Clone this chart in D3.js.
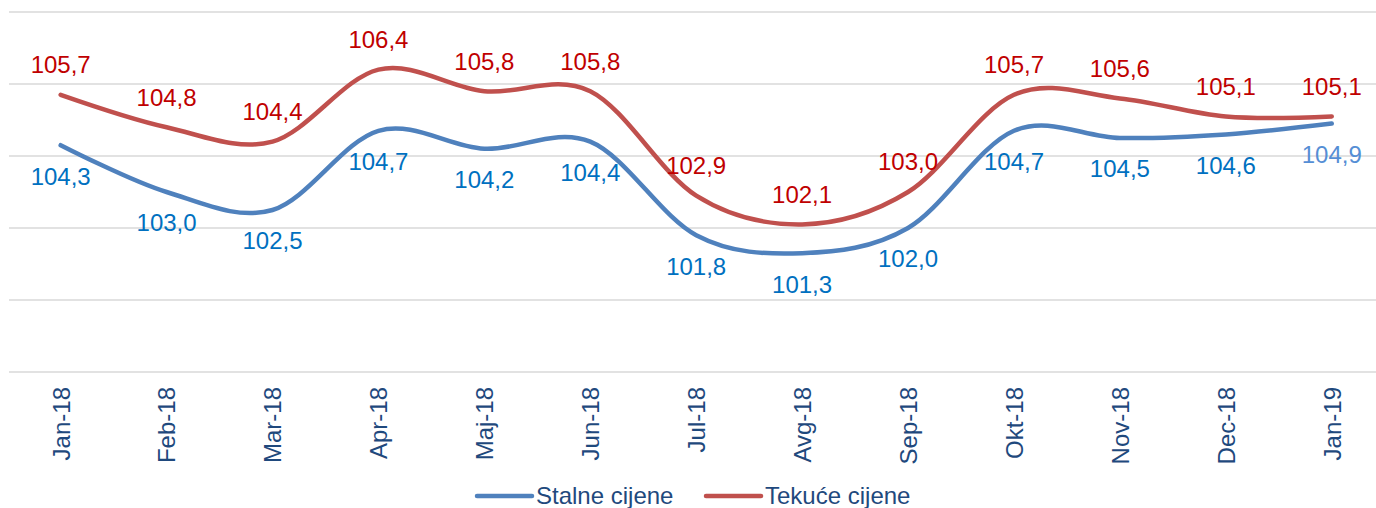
<!DOCTYPE html>
<html>
<head>
<meta charset="utf-8">
<script src="https://cdn.jsdelivr.net/npm/d3@7"></script>
<style>
  html, body { margin: 0; padding: 0; background: #fff; }
  svg { display: block; font-family: "Liberation Sans", Arial, sans-serif; }
</style>
</head>
<body>
<svg id="chart" width="1376" height="508"></svg>
<script>
const categories = ["Jan-18","Feb-18","Mar-18","Apr-18","Maj-18","Jun-18","Jul-18","Avg-18","Sep-18","Okt-18","Nov-18","Dec-18","Jan-19"];
const stalne = [104.3,103.0,102.5,104.7,104.2,104.4,101.8,101.3,102.0,104.7,104.5,104.6,104.9];
const tekuce = [105.7,104.8,104.4,106.4,105.8,105.8,102.9,102.1,103.0,105.7,105.6,105.1,105.1];
const yTicks = [98,100,102,104,106,108];
const seriesNames = ["Stalne cijene","Tekuće cijene"];

const svg = d3.select("#chart");
const x = d3.scalePoint().domain(categories).range([7.7, 1384.7]).padding(0.5);
const y = d3.scaleLinear().domain([98, 108]).range([372, 12]);

// gridlines
svg.append("g").selectAll("line").data(yTicks).join("line")
  .attr("x1", 9).attr("x2", 1376)
  .attr("y1", d => y(d)).attr("y2", d => y(d))
  .attr("stroke", "#D9D9D9").attr("stroke-width", 1.3);

// x axis labels
const xAxis = d3.axisBottom(x).tickSize(0).tickPadding(0);
const gx = svg.append("g").attr("transform", `translate(0,${y(98)})`).call(xAxis);
gx.select(".domain").remove();
gx.selectAll("text")
  .attr("transform", "translate(0,15) rotate(-90)")
  .attr("text-anchor", "end")
  .attr("x", 0).attr("y", 0).attr("dy", "0.35em")
  .attr("fill", "#1F497D")
  .style("font-size", "24px")
  .style("font-family", "'Liberation Sans', Arial, sans-serif");

const line = d3.line()
  .x((d, i) => x(categories[i]))
  .y(d => y(d))
  .curve(d3.curveCatmullRom.alpha(0));

const series = [
  { name: seriesNames[0], values: stalne, color: "#4F81BD", label: "#0070C0", dy: 31 },
  { name: seriesNames[1], values: tekuce, color: "#C0504D", label: "#C00000", dy: -30 }
];

series.forEach(s => {
  svg.append("path").datum(s.values)
    .attr("d", line)
    .attr("fill", "none")
    .attr("stroke", s.color)
    .attr("stroke-width", 4.5)
    .attr("stroke-linecap", "round")
    .attr("stroke-linejoin", "round");
});

const fmt = v => v.toFixed(1).replace(".", ",");
series.forEach(s => {
  svg.append("g").selectAll("text").data(s.values).join("text")
    .attr("x", (d, i) => x(categories[i]))
    .attr("y", d => y(d) + s.dy)
    .attr("dy", "0.35em")
    .attr("text-anchor", "middle")
    .attr("fill", (d, i) => (s.name === seriesNames[0] && i === s.values.length - 1) ? "#558ED5" : s.label)
    .style("font-size", "24px")
    .text(fmt);
});

// legend
const legend = svg.append("g");
const legendX = [477, 706];
series.forEach((s, i) => {
  legend.append("line")
    .attr("x1", legendX[i]).attr("x2", legendX[i] + 55)
    .attr("y1", 496).attr("y2", 496)
    .attr("stroke", s.color).attr("stroke-width", 4.5).attr("stroke-linecap", "round");
  legend.append("text")
    .attr("x", legendX[i] + 59).attr("y", 496).attr("dy", "0.35em")
    .attr("fill", "#1F497D")
    .style("font-size", "24px")
    .text(s.name);
});
</script>
</body>
</html>
